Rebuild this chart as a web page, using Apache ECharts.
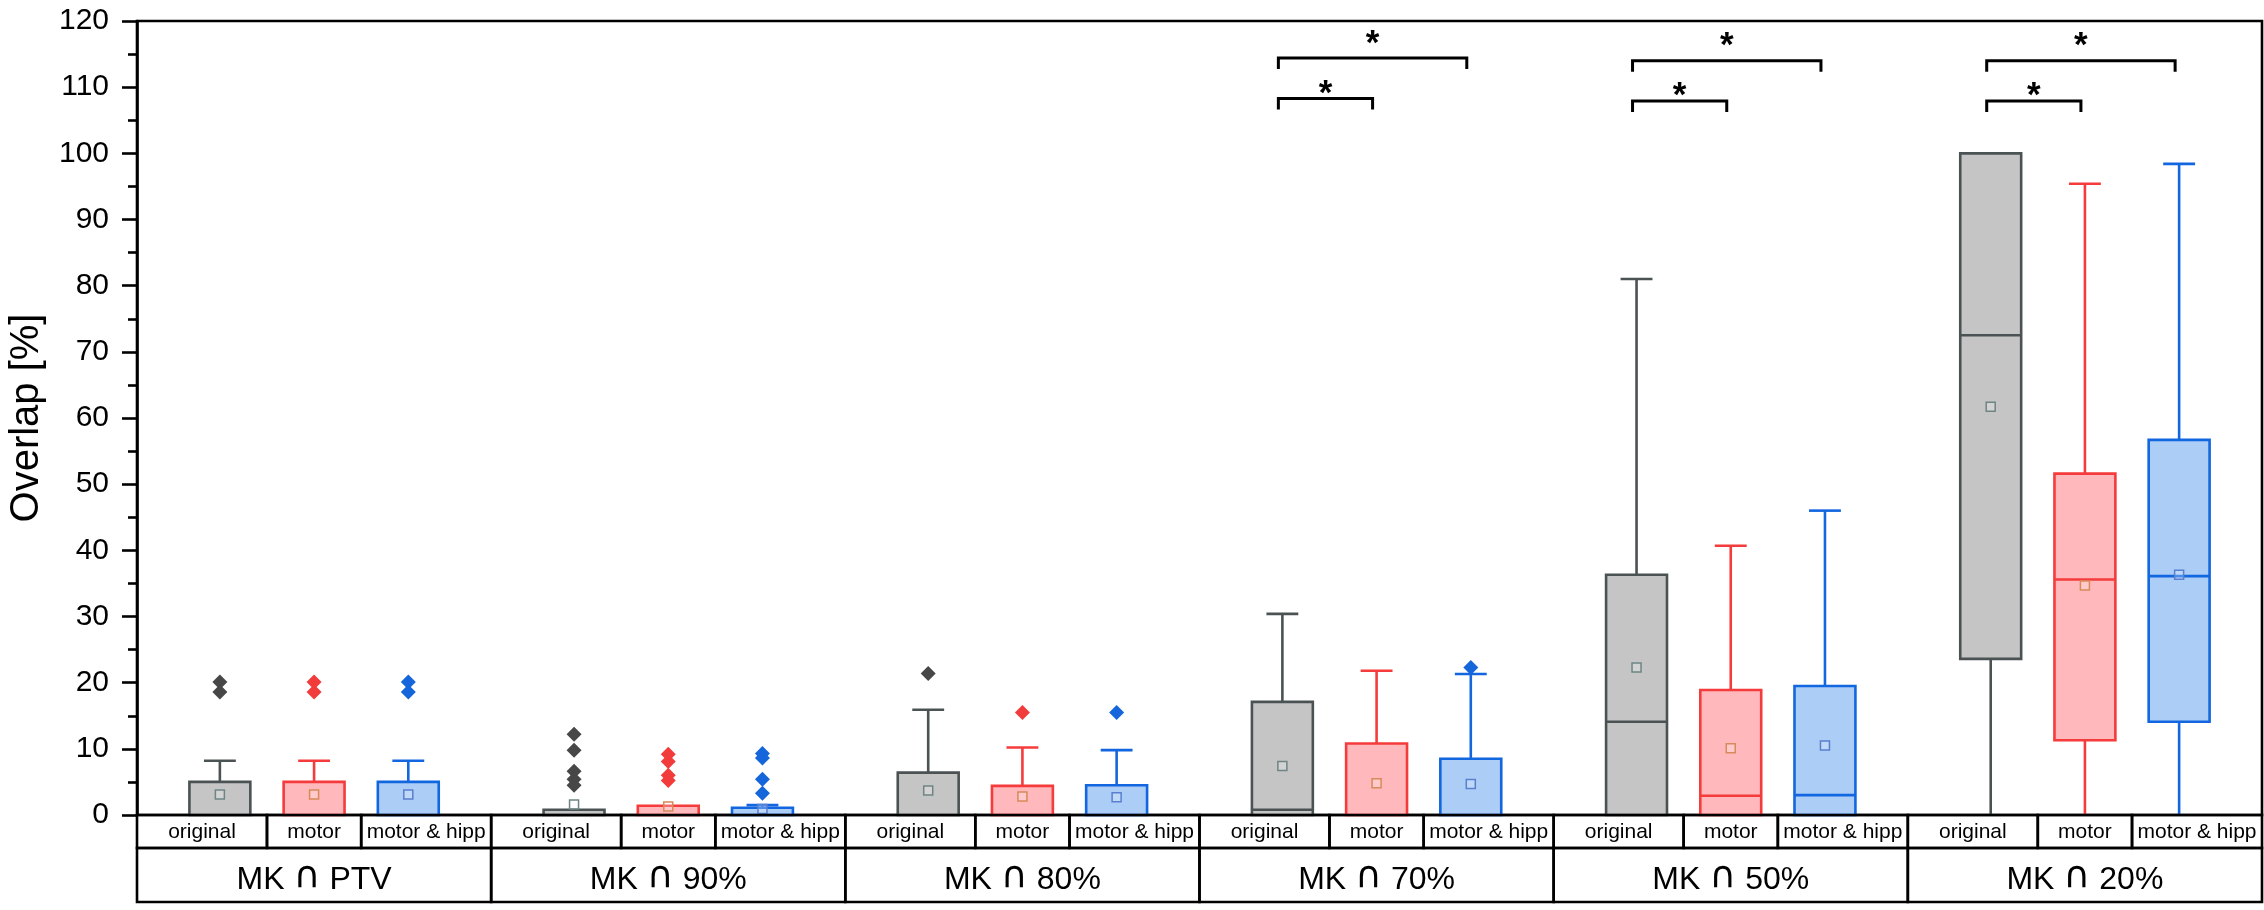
<!DOCTYPE html>
<html>
<head>
<meta charset="utf-8">
<script src="https://cdn.jsdelivr.net/npm/echarts@6/dist/echarts.min.js"></script>
<style>
html,body{margin:0;padding:0;background:#fff;}
#chart{width:2264px;height:910px;}
</style>
</head>
<body>
<div id="chart"></div>
<script>
// ---------- data ----------
const groups = ['MK ∩ PTV', 'MK ∩ 90%', 'MK ∩ 80%', 'MK ∩ 70%', 'MK ∩ 50%', 'MK ∩ 20%'];
const seriesNames = ['original', 'motor', 'motor & hipp'];
const yTicks = [0, 10, 20, 30, 40, 50, 60, 70, 80, 90, 100, 110, 120];

// box stats per group: [low, q1, median, q3, high]
const originalBox = [
  [0, 0, 0, 5.0, 8.2],
  [0, 0, 0, 0.8, 0.8],
  [0, 0, 0, 6.4, 15.9],
  [0, 0, 0.8, 17.1, 30.4],
  [0, 0, 14.1, 36.3, 81.0],
  [0, 23.6, 72.5, 100, 100]
];
const motorBox = [
  [0, 0, 0, 5.0, 8.2],
  [0, 0, 0, 1.4, 1.4],
  [0, 0, 0, 4.4, 10.2],
  [0, 0, 0, 10.8, 21.8],
  [0, 0, 2.9, 18.9, 40.7],
  [0, 11.3, 35.6, 51.6, 95.4]
];
const motorHippBox = [
  [0, 0, 0, 5.0, 8.2],
  [0, 0, 0, 1.1, 1.5],
  [0, 0, 0, 4.5, 9.8],
  [0, 0, 0, 8.5, 21.3],
  [0, 0, 3.0, 19.5, 46.0],
  [0, 14.1, 36.1, 56.7, 98.4]
];
const originalMean = [3.1, 1.6, 3.7, 7.4, 22.3, 61.7];
const motorMean = [3.1, 1.3, 2.8, 4.8, 10.1, 34.7];
const motorHippMean = [3.1, 0.9, 2.7, 4.7, 10.5, 36.3];

const originalOutliers = [[20.1, 18.6], [12.2, 9.8, 6.6, 5.4, 4.5], [21.4], [], [], []];
const motorOutliers = [[20.1, 18.6], [9.2, 8.1, 6.0, 5.2], [15.5], [], [], []];
const motorHippOutliers = [[20.1, 18.6], [9.3, 8.6, 5.4, 3.3], [15.5], [22.3], [], []];

// significance brackets: group index, compared series indices, bracket height, star height (y values)
const bracketGroup = [3, 3, 4, 4, 5, 5];
const bracketFrom = [0, 0, 0, 0, 0, 0];
const bracketTo = [1, 2, 1, 2, 1, 2];
const bracketY = [108.3, 114.4, 107.9, 114.0, 107.9, 114.0];
const starY = [110.0, 117.6, 109.7, 117.3, 109.7, 117.3];
const bracketLabel = ['*', '*', '*', '*', '*', '*'];

// ---------- styling / layout ----------
const FONT = '"Liberation Sans", Arial, "DejaVu Sans", sans-serif';
const OFFSETS = [0.234, 0.5, 0.766];     // box centre within a group
const CELL_EDGES = [0, 0.367, 0.633, 1]; // sub-label cells within a group
const BOX_W = 0.172, CAP_W = 0.09;
const ROW1_H = 33, ROW2_H = 54;
const styles = [
  {fill: '#c5c5c5', stroke: '#4b5254', outlier: '#474747', mean: '#6f8585'},
  {fill: '#ffb8bb', stroke: '#f53b3b', outlier: '#f23c3c', mean: '#d9895a'},
  {fill: '#abcdf6', stroke: '#1266e0', outlier: '#1566db', mean: '#5a7fcf'}
];
const boxes = [originalBox, motorBox, motorHippBox];
const means = [originalMean, motorMean, motorHippMean];
const outliers = [originalOutliers, motorOutliers, motorHippOutliers];

function boxRender(st) {
  return function (params, api) {
    const x = api.value(0);
    const low = api.value(1), q1 = api.value(2), med = api.value(3), q3 = api.value(4), high = api.value(5), mean = api.value(6);
    const bw = api.size([BOX_W, 0])[0];
    const cw = api.size([CAP_W, 0])[0];
    const pQ1 = api.coord([x, q1]), pQ3 = api.coord([x, q3]);
    const pHigh = api.coord([x, high]), pLow = api.coord([x, low]);
    const pMed = api.coord([x, med]), pMean = api.coord([x, mean]);
    const lw = 2.6;
    const ch = [];
    if (high > q3) {
      ch.push({type: 'line', shape: {x1: pQ3[0], y1: pQ3[1], x2: pHigh[0], y2: pHigh[1]}, style: {stroke: st.stroke, lineWidth: lw}});
      ch.push({type: 'line', shape: {x1: pHigh[0] - cw / 2, y1: pHigh[1], x2: pHigh[0] + cw / 2, y2: pHigh[1]}, style: {stroke: st.stroke, lineWidth: lw}});
    }
    if (low < q1) {
      ch.push({type: 'line', shape: {x1: pQ1[0], y1: pQ1[1], x2: pLow[0], y2: pLow[1]}, style: {stroke: st.stroke, lineWidth: lw}});
      if (low > 0) ch.push({type: 'line', shape: {x1: pLow[0] - cw / 2, y1: pLow[1], x2: pLow[0] + cw / 2, y2: pLow[1]}, style: {stroke: st.stroke, lineWidth: lw}});
    }
    ch.push({type: 'rect', shape: {x: pQ3[0] - bw / 2, y: pQ3[1], width: bw, height: pQ1[1] - pQ3[1]},
      style: {fill: st.fill, stroke: st.stroke, lineWidth: lw}});
    if (med > q1) {
      ch.push({type: 'line', shape: {x1: pMed[0] - bw / 2, y1: pMed[1], x2: pMed[0] + bw / 2, y2: pMed[1]}, style: {stroke: st.stroke, lineWidth: lw}});
    }
    ch.push({type: 'rect', shape: {x: pMean[0] - 4.5, y: pMean[1] - 4.5, width: 9, height: 9},
      style: {fill: 'rgba(255,255,255,0.25)', stroke: st.mean, lineWidth: 1.5}});
    return {type: 'group', children: ch};
  };
}

const series = [];
for (let s = 0; s < 3; s++) {
  const data = boxes[s].map((b, g) => [g + OFFSETS[s], b[0], b[1], b[2], b[3], b[4], means[s][g]]);
  series.push({
    name: seriesNames[s], type: 'custom', clip: false, z: 3,
    renderItem: boxRender(styles[s]),
    encode: {x: 0, y: [1, 2, 3, 4, 5]},
    data: data
  });
  const od = [];
  outliers[s].forEach((arr, g) => arr.forEach(v => od.push([g + OFFSETS[s], v])));
  series.push({
    name: seriesNames[s] + ' outliers', type: 'scatter', symbol: 'diamond', symbolSize: [15, 15], z: 4,
    itemStyle: {color: styles[s].outlier, opacity: 1}, data: od, silent: true
  });
}

// brackets
series.push({
  type: 'custom', clip: false, z: 5, silent: true,
  data: bracketGroup.map((g, i) => [g + OFFSETS[bracketFrom[i]], g + OFFSETS[bracketTo[i]], bracketY[i], starY[i], i]),
  renderItem: function (params, api) {
    const p0 = api.coord([api.value(0), api.value(2)]);
    const p1 = api.coord([api.value(1), api.value(2)]);
    const ps = api.coord([(api.value(0) + api.value(1)) / 2, api.value(3)]);
    const drop = 11;
    const idx = api.value(4);
    return {type: 'group', children: [
      {type: 'polyline', shape: {points: [[p0[0] - 4, p0[1] + drop], [p0[0] - 4, p0[1]], [p1[0] - 4, p1[1]], [p1[0] - 4, p1[1] + drop]]},
        style: {stroke: '#000', lineWidth: 3, fill: null}},
      {type: 'text', x: ps[0] - 4, y: ps[1] + 7,
        style: {text: bracketLabel[idx], fill: '#000', font: 'bold 35px ' + FONT, align: 'center', verticalAlign: 'middle'}}
    ]};
  }
});

// category table below the plot
series.push({
  type: 'custom', clip: false, z: 5, silent: true,
  data: groups.map((name, g) => [g]),
  renderItem: function (params, api) {
    const g = api.value(0);
    const top = api.coord([g, 0])[1];
    const ch = [];
    const lineStyle = {stroke: '#000', lineWidth: 2.6, fill: null};
    for (let c = 0; c < 3; c++) {
      const xa = api.coord([g + CELL_EDGES[c], 0])[0];
      const xb = api.coord([g + CELL_EDGES[c + 1], 0])[0];
      ch.push({type: 'rect', shape: {x: xa, y: top, width: xb - xa, height: ROW1_H}, style: lineStyle});
      ch.push({type: 'text', x: (xa + xb) / 2, y: top + ROW1_H / 2 + 1,
        style: {text: seriesNames[c], fill: '#000', font: '21px ' + FONT, align: 'center', verticalAlign: 'middle'}});
    }
    const x0 = api.coord([g, 0])[0], x1 = api.coord([g + 1, 0])[0];
    ch.push({type: 'rect', shape: {x: x0, y: top + ROW1_H, width: x1 - x0, height: ROW2_H}, style: lineStyle});
    const parts = groups[g].split('∩');
    ch.push({type: 'text', x: (x0 + x1) / 2, y: top + ROW1_H + ROW2_H / 2 + 1,
      style: {
        text: '{a|' + parts[0] + '}{c|∩}{a|' + parts[1] + '}',
        rich: {
          a: {fontSize: 32, fontFamily: FONT, fill: '#000', verticalAlign: 'bottom', lineHeight: 40},
          c: {fontSize: 37, fontFamily: '"DejaVu Sans"', fill: '#000', verticalAlign: 'bottom', lineHeight: 40}
        },
        fill: '#000', align: 'center', verticalAlign: 'middle'
      }});
    return {type: 'group', children: ch};
  }
});

const chart = echarts.init(document.getElementById('chart'), null, {renderer: 'canvas'});
chart.setOption({
  animation: false,
  backgroundColor: '#fff',
  textStyle: {fontFamily: FONT},
  grid: {left: 137, right: 2, top: 21, bottom: 95, containLabel: false, outerBoundsMode: 'none',
    show: true, borderColor: '#000', borderWidth: 2.6, backgroundColor: 'transparent'},
  xAxis: {type: 'value', min: 0, max: groups.length, show: false},
  yAxis: {
    type: 'value', min: yTicks[0], max: yTicks[yTicks.length - 1], interval: yTicks[1] - yTicks[0],
    name: 'Overlap [%]', nameLocation: 'middle', nameGap: 90,
    nameTextStyle: {fontSize: 40, color: '#000', fontFamily: FONT},
    axisLine: {show: true, lineStyle: {color: '#000', width: 2.6}},
    axisTick: {show: true, inside: false, length: 15, lineStyle: {color: '#000', width: 2.6}},
    minorTick: {show: true, splitNumber: 2, length: 9, lineStyle: {color: '#000', width: 2.6}},
    axisLabel: {fontSize: 30, color: '#000', margin: 28, fontFamily: FONT},
    splitLine: {show: false}, minorSplitLine: {show: false}
  },
  series: series
});
</script>
</body>
</html>
